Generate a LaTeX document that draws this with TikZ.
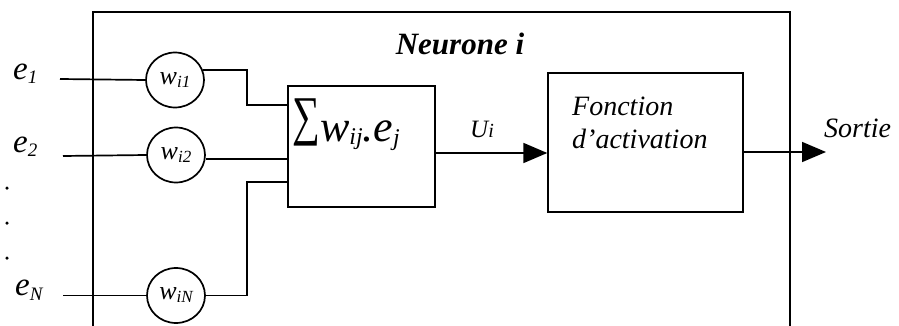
\documentclass[tikz,border=0pt]{standalone}
\usepackage{fontspec}
\setmainfont{Liberation Serif}
\usetikzlibrary{shapes.geometric,arrows.meta,calc}
\newcommand{\fs}[1]{\fontsize{#1}{#1}\selectfont}
\newcommand{\lowsub}[2]{\raisebox{-#1pt}{#2}}
\begin{document}
\begin{tikzpicture}[x=1pt,y=-1pt,
  wire/.style={line width=1.7pt},
  frame/.style={line width=2.2pt},
  blockbox/.style={draw,line width=1.4pt,inner sep=0pt},
  weight/.style={draw,ellipse,line width=1.7pt,minimum width=58pt,minimum height=55pt,inner sep=0pt,font=\fs{26}\itshape},
  lbl/.style={inner sep=0pt,font=\itshape},
  dotn/.style={circle,fill,inner sep=0pt,minimum size=3.5pt},
  arr/.style={wire,-{Triangle[length=24pt,width=20pt]}}
]
\useasboundingbox (0,0) rectangle (899,326);
% outer neuron frame (open at the bottom)
\draw[frame] (93,326) -- (93,12) -- (790,12) -- (790,326);
\node[lbl,font=\fs{31}\bfseries\itshape] (title) at (460,44) {Neurone i};
% blocks
\node[blockbox,minimum width=147pt,minimum height=121pt] (sum) at (361.5,146.5) {};
\node[blockbox,minimum width=195pt,minimum height=139pt] (act) at (645.5,142.5) {};
\node[lbl,anchor=base west] (sumtxt) at (292,142)
  {\raisebox{8pt}{\scalebox{0.75}[1.05]{\textup{\fs{52}∑}}}\fs{44}w\lowsub{3}{\fs{24}ij}\fs{44}.e\lowsub{4}{\fs{24}j}};
\node[lbl,align=left,anchor=north west,font=\fontsize{28}{33}\selectfont\itshape] (acttxt) at (572,97)
  {Fonction\\d’activation};
% weights
\node[weight] (w1) at (175,80) {w\lowsub{3}{\fs{17}i1}};
\node[weight] (w2) at (176,155) {w\lowsub{3}{\fs{17}i2}};
\node[weight] (wN) at (176,295.5) {w\lowsub{3}{\fs{17}iN}};
% inputs
\node[lbl,anchor=base west] (e1) at (13,80) {\fs{33}e\lowsub{4}{\fs{19}1}};
\node[lbl,anchor=base west] (e2) at (13,152) {\fs{33}e\lowsub{4}{\fs{19}2}};
\node[lbl,anchor=base west] (eN) at (15,295) {\fs{33}e\lowsub{5}{\fs{19}N}};
\node[dotn] (d1) at (7,188) {};
\node[dotn] (d2) at (7,223) {};
\node[dotn] (d3) at (7,258) {};
\coordinate (s1) at (60,79);
\coordinate (s2) at (63,156);
\coordinate (sN) at (63,295.5);
\draw[wire] (s1) -- (w1.west);
\draw[wire] (s2) -- (w2.west);
\draw[wire] (sN) -- (wN.west);
% weights to sum
\coordinate (k1) at (247,105);
\coordinate (kN) at (247,182);
\draw[wire] (w1.20) -| (k1) -- (k1 -| sum.west);
\draw[wire] ($(w2.east)+(0,4)$) coordinate (w2o) -- (w2o -| sum.west);
\draw[wire] (wN.east) -| (kN) -- (kN -| sum.west);
% Ui
\draw[arr] ($(sum.east)+(0,6.5)$) coordinate (u0) -- (u0 -| act.west);
\node[lbl,anchor=base west] (ui) at (470,138) {\fs{25}U\fs{20}i};
% output
\coordinate (out) at (826,152);
\draw[arr] (act.east |- out) -- (out);
\node[lbl,anchor=base west,font=\fs{28}\itshape] (sortie) at (824,137) {Sortie};
\end{tikzpicture}
\end{document}
